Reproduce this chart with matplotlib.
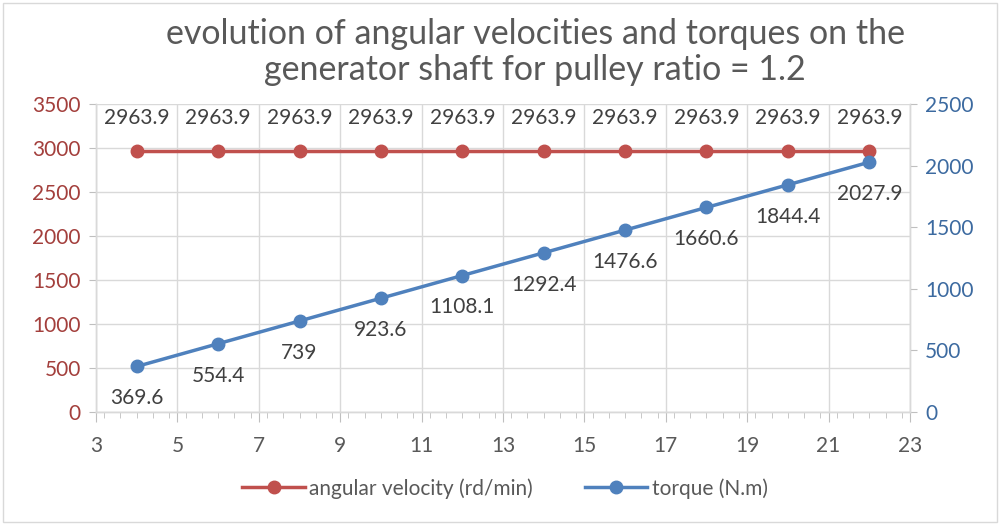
import matplotlib
matplotlib.use("Agg")
import matplotlib.pyplot as plt
from matplotlib.ticker import MultipleLocator, FixedLocator

x_vals = [4, 6, 8, 10, 12, 14, 16, 18, 20, 22]
angular_velocity = [2963.9] * 10
torque = [369.6, 554.4, 739, 923.6, 1108.1, 1292.4, 1476.6, 1660.6, 1844.4, 2027.9]
torque_labels = ["369.6", "554.4", "739", "923.6", "1108.1", "1292.4", "1476.6", "1660.6", "1844.4", "2027.9"]
x_ticks = [3, 5, 7, 9, 11, 13, 15, 17, 19, 21, 23]
title = "evolution of angular velocities and torques on the\ngenerator shaft for pulley ratio = 1.2"

RED = "#c0504d"
BLUE = "#4f81bd"
RED_T = "#a33f3c"
BLUE_T = "#3c6aa0"
GRID = "#d9d9d9"
TXT = "#404040"

plt.rcParams['font.family'] = ['Lato', 'DejaVu Sans']

fig = plt.figure(figsize=(10, 5.24), dpi=100)
ax = fig.add_axes([0.096, 0.2137, 0.814, 0.5878])
ax2 = ax.twinx()

ax.set_xlim(3, 23)
ax.set_ylim(0, 3500)
ax2.set_ylim(0, 2500)
ax.xaxis.set_major_locator(FixedLocator(x_ticks))
ax.xaxis.set_minor_locator(MultipleLocator(0.4))
ax.yaxis.set_major_locator(MultipleLocator(500))
ax2.yaxis.set_major_locator(MultipleLocator(500))

ax.grid(True, which='major', color=GRID, linewidth=1)
ax.set_axisbelow(True)
for a in (ax, ax2):
    for s in a.spines.values():
        s.set_color(GRID)
        s.set_linewidth(1)
    a.spines['top'].set_visible(False)

l1, = ax.plot(x_vals, angular_velocity, color=RED, lw=2.5, marker='o', ms=9,
              label="angular velocity (rd/min)", zorder=3)
l2, = ax2.plot(x_vals, torque, color=BLUE, lw=2.5, marker='o', ms=9,
               label="torque (N.m)", zorder=3)

for xv, yv in zip(x_vals, angular_velocity):
    ax.annotate(f"{yv:.1f}", (xv, yv), xytext=(0, 24), textcoords='offset points',
                ha='center', va='center', fontsize=15, color=TXT)
for xv, yv, lab in zip(x_vals, torque, torque_labels):
    ax2.annotate(lab, (xv, yv), xytext=(0, -23), textcoords='offset points',
                 ha='center', va='center', fontsize=15, color=TXT)

ax.tick_params(axis='x', which='major', length=7, color='#bfbfbf', labelsize=15,
               labelcolor='#595959', pad=10)
ax.tick_params(axis='x', which='minor', length=4, color='#bfbfbf')
ax.tick_params(axis='y', length=5, color='#bfbfbf', labelsize=15, labelcolor=RED_T, pad=6)
ax2.tick_params(axis='y', length=5, color='#bfbfbf', labelsize=15, labelcolor=BLUE_T, pad=6)

fig.text(0.535, 0.9, title, ha='center', va='center', fontsize=24.5,
         color='#595959', linespacing=1.15)

fig.legend(handles=[l1, l2], loc='center', bbox_to_anchor=(0.505, 0.068), ncol=2,
           frameon=False, fontsize=15, labelcolor='#595959', handlelength=3,
           columnspacing=2.5, handletextpad=0.2)

border = plt.Rectangle((0.003, 0.004), 0.994, 0.99, transform=fig.transFigure,
                       fill=False, edgecolor='#d9d9d9', lw=1)
fig.add_artist(border)

fig.savefig("out.png", dpi=100)
